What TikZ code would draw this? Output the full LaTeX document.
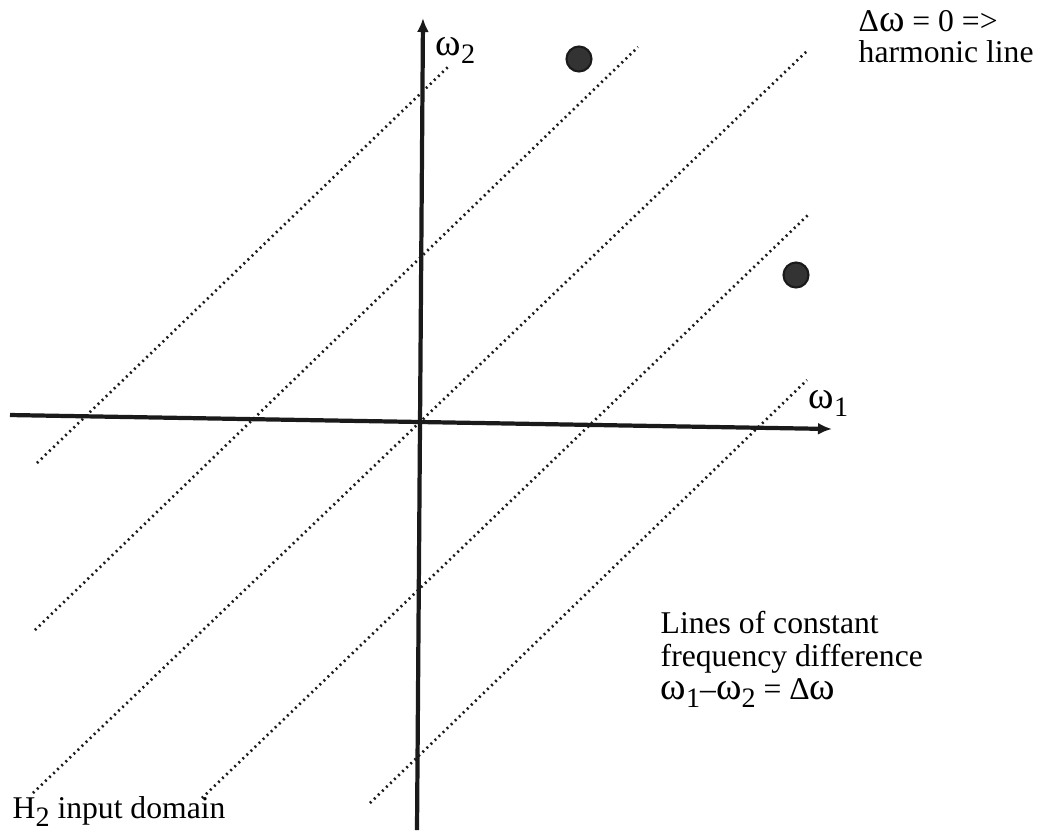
\documentclass[tikz,border=0pt]{standalone}
\usepackage{fontspec}
\setmainfont{Liberation Serif}
\usepackage{tikz}
\usetikzlibrary{arrows.meta}
\definecolor{ink}{HTML}{1A1A1A}
\definecolor{dotgray}{HTML}{333333}
\newcommand{\omg}{{\fontsize{11}{11}\selectfont ω}}
\newcommand{\lowsub}[1]{\raisebox{-0.55ex}{\fontsize{8}{8}\selectfont #1}}
\tikzset{
  axisline/.style={draw=ink,line width=1.2pt,-{Latex[length=1.4mm,width=1.2mm]}},
  diffline/.style={draw=ink,line width=0.75pt,dash pattern=on 0.55pt off 1.05pt},
  pointmark/.style={draw=ink,fill=dotgray,line width=0.6pt},
  labeltext/.style={inner sep=0pt,font=\fontsize{9}{9.4}\selectfont,align=left}
}
\begin{document}
\begin{tikzpicture}[x=0.01cm,y=-0.01cm]
  \useasboundingbox (0,0) rectangle (1040,835);

  \coordinate (w1start) at (10,415);
  \coordinate (w1end) at (832,429);
  \coordinate (w2start) at (417,830);
  \coordinate (w2end) at (423,18);

  \foreach \xa/\ya/\xb/\yb in {37/463/448/67, 35/630/638/47, 33/793/808/50,
                               202/798/808/215, 370/803/807/380}
    \draw[diffline] (\xa,\ya) -- (\xb,\yb);

  \draw[axisline] (w1start) -- (w1end);
  \draw[axisline] (w2start) -- (w2end);

  \filldraw[pointmark] (579,59) circle (12.5);
  \filldraw[pointmark] (796,275) circle (12.5);

  \node[labeltext,anchor=base west] (w2label) at (435,55) {\omg\lowsub{2}};
  \node[labeltext,anchor=base west] (w1label) at (808,408) {\omg\lowsub{1}};
  \node[labeltext,anchor=north west,font=\fontsize{9}{8.6}\selectfont] (harmonic) at (858,10)
    {Δ\omg{} = 0 =>\\harmonic line};
  \node[labeltext,anchor=north west] (constdiff) at (660,610)
    {Lines of constant\\frequency difference\\\omg\lowsub{1}–\omg\lowsub{2} = Δ\omg};
  \node[labeltext,anchor=base west] (domain) at (12,818) {H\lowsub{2} input domain};
\end{tikzpicture}
\end{document}
